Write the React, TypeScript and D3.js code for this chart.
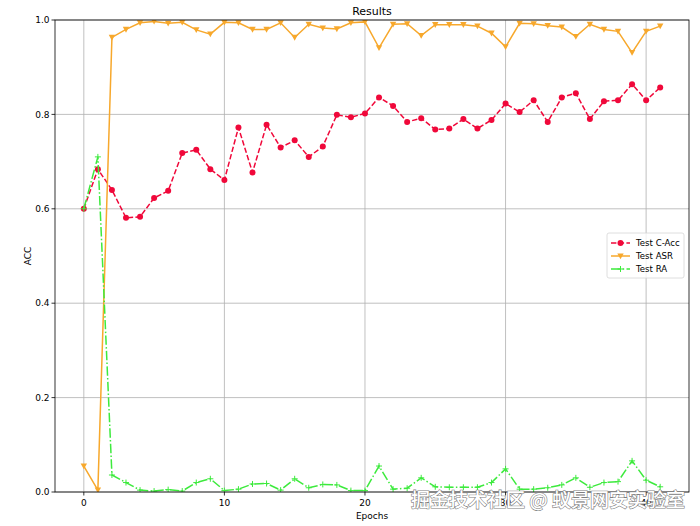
import { useMemo } from "react";
import * as d3 from "d3";

const cAcc = [
  0.6, 0.684, 0.64, 0.581, 0.583, 0.623, 0.638, 0.718, 0.725, 0.684, 0.661,
  0.772, 0.677, 0.778, 0.73, 0.745, 0.71, 0.732, 0.799, 0.794, 0.802, 0.836,
  0.818, 0.784, 0.792, 0.768, 0.77, 0.79, 0.77, 0.788, 0.823, 0.805, 0.83,
  0.784, 0.836, 0.845, 0.79, 0.828, 0.83, 0.864, 0.83, 0.857,
];
const asr = [
  0.055, 0.004, 0.963, 0.98, 0.994, 0.997, 0.993, 0.995, 0.979, 0.97, 0.995,
  0.994, 0.98, 0.98, 0.994, 0.963, 0.991, 0.983, 0.981, 0.994, 0.996, 0.941,
  0.991, 0.992, 0.967, 0.99, 0.99, 0.99, 0.987, 0.972, 0.943, 0.993, 0.992,
  0.988, 0.985, 0.965, 0.991, 0.98, 0.976, 0.931, 0.976, 0.987,
];
const ra = [
  0.6, 0.71, 0.036, 0.02, 0.004, 0.002, 0.005, 0.002, 0.02, 0.028, 0.003,
  0.006, 0.017, 0.018, 0.004, 0.028, 0.009, 0.016, 0.015, 0.003, 0.003, 0.055,
  0.006, 0.008, 0.03, 0.011, 0.01, 0.01, 0.01, 0.02, 0.049, 0.006, 0.006,
  0.009, 0.015, 0.03, 0.01, 0.02, 0.022, 0.066, 0.025, 0.011,
];
const xTicks = [0, 10, 20, 30, 40];
const yTicks = [0, 0.2, 0.4, 0.6, 0.8, 1.0];

const W = 700;
const H = 526;
const left = 55;
const right = 689;
const top = 20;
const bottom = 492;
const font = "'DejaVu Sans', sans-serif";
const fs = 9;

const series = [
  { name: "Test C-Acc", data: cAcc, color: "#f0083a", dash: "5.4,2.3", marker: "circle" },
  { name: "Test ASR", data: asr, color: "#f7a82c", dash: "", marker: "tri" },
  { name: "Test RA", data: ra, color: "#3dea3d", dash: "9.4,2.3,1.5,2.3", marker: "plus" },
];

function Marker({ kind, x, y, color }: { kind: string; x: number; y: number; color: string }) {
  if (kind === "circle") return <circle cx={x} cy={y} r={3} fill={color} />;
  if (kind === "tri")
    return <path d={`M${x - 3.2},${y - 2.6}L${x + 3.2},${y - 2.6}L${x},${y + 3.2}Z`} fill={color} />;
  return (
    <path d={`M${x - 3},${y}H${x + 3}M${x},${y - 3}V${y + 3}`} stroke={color} strokeWidth={1} fill="none" />
  );
}

export default function App() {
  const n = cAcc.length;
  const x = useMemo(() => d3.scaleLinear().domain([-(n - 1) * 0.05, (n - 1) * 1.05]).range([left, right]), [n]);
  const y = useMemo(() => d3.scaleLinear().domain([0, 1]).range([bottom, top]), []);
  const line = d3.line<number>().x((_, i) => x(i)).y((d) => y(d));

  return (
    <svg width={W} height={H} style={{ position: "absolute", left: 0, top: 0, background: "#fff" }} fontFamily={font}>
      <defs>
        <clipPath id="plot">
          <rect x={left} y={top} width={right - left} height={bottom - top} />
        </clipPath>
      </defs>
      {/* grid */}
      {xTicks.map((t) => (
        <line key={"gx" + t} x1={x(t)} x2={x(t)} y1={top} y2={bottom} stroke="#b0b0b0" strokeWidth={0.8} />
      ))}
      {yTicks.map((t) => (
        <line key={"gy" + t} x1={left} x2={right} y1={y(t)} y2={y(t)} stroke="#b0b0b0" strokeWidth={0.8} />
      ))}
      <g clipPath="url(#plot)">
        {series.map((s) => (
          <g key={s.name}>
            <path d={line(s.data) || ""} fill="none" stroke={s.color} strokeWidth={1.5} strokeDasharray={s.dash} />
            {s.data.map((v, i) => (
              <Marker key={i} kind={s.marker} x={x(i)} y={y(v)} color={s.color} />
            ))}
          </g>
        ))}
      </g>
      <rect x={left} y={top} width={right - left} height={bottom - top} fill="none" stroke="#000" strokeWidth={0.8} />
      {/* ticks */}
      {xTicks.map((t) => (
        <g key={"tx" + t}>
          <line x1={x(t)} x2={x(t)} y1={bottom} y2={bottom + 3.5} stroke="#000" strokeWidth={0.8} />
          <text x={x(t)} y={bottom + 14} textAnchor="middle" fontSize={fs}>{t}</text>
        </g>
      ))}
      {yTicks.map((t) => (
        <g key={"ty" + t}>
          <line x1={left - 3.5} x2={left} y1={y(t)} y2={y(t)} stroke="#000" strokeWidth={0.8} />
          <text x={left - 5.5} y={y(t)} dy="0.35em" textAnchor="end" fontSize={fs}>{t.toFixed(1)}</text>
        </g>
      ))}
      <text x={(left + right) / 2} y={top - 5} textAnchor="middle" fontSize={11}>Results</text>
      <text x={(left + right) / 2} y={519} textAnchor="middle" fontSize={fs}>Epochs</text>
      <text transform={`translate(31,${(top + bottom) / 2}) rotate(-90)`} textAnchor="middle" fontSize={fs}>ACC</text>
      {/* legend */}
      <g transform="translate(607,233)">
        <rect x={0} y={0} width={77} height={45} rx={2} fill="#fff" fillOpacity={0.8} stroke="#d6d6d6" strokeWidth={0.8} />
        {series.map((s, i) => (
          <g key={s.name} transform={`translate(0,${10 + i * 13})`}>
            <line x1={4} x2={23} y1={0} y2={0} stroke={s.color} strokeWidth={1.5} strokeDasharray={s.dash} />
            <Marker kind={s.marker} x={13.5} y={0} color={s.color} />
            <text x={29} y={0} dy="0.35em" fontSize={8.6}>{s.name}</text>
          </g>
        ))}
      </g>
      {/* watermark */}
      <text x={685} y={507} textAnchor="end" fontSize={19} fontFamily="'Noto Sans CJK SC', sans-serif"
        fill="#fff" stroke="#808080" strokeWidth={1.2} paintOrder="stroke" fontWeight={500}>
        掘金技术社区 @ 蚁景网安实验室
      </text>
    </svg>
  );
}
